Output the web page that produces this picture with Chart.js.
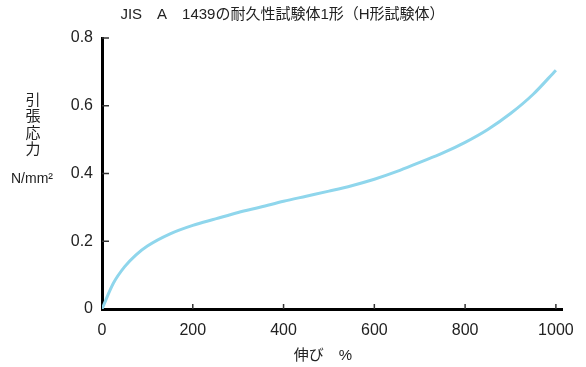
<!DOCTYPE html>
<html>
<head>
<meta charset="utf-8">
<script src="https://cdn.jsdelivr.net/npm/chart.js@4/dist/chart.umd.min.js"></script>
<style>
  html, body { margin: 0; padding: 0; background: #fff; }
  #wrap { width: 586px; height: 367px; position: relative; }
</style>
</head>
<body>
<div id="wrap"><canvas id="c" width="586" height="367"></canvas></div>
<script>
// ---- data ----
const titleText = 'JIS　A　1439の耐久性試験体1形（H形試験体）';
const xAxisTitle = '伸び　%';
const yAxisTitleChars = ['引', '張', '応', '力'];
const yAxisUnit = 'N/mm²';
const elongation = [0, 25, 50, 75, 100, 150, 200, 250, 300, 350, 400, 450, 500, 550, 600, 650, 700, 750, 800, 850, 900, 950, 1000];
const stress = [0, 0.076, 0.125, 0.16, 0.186, 0.222, 0.247, 0.266, 0.285, 0.301, 0.318, 0.333, 0.348, 0.364, 0.383, 0.406, 0.433, 0.46, 0.492, 0.53, 0.577, 0.634, 0.705];
const xTicks = [0, 200, 400, 600, 800, 1000];
const yTicks = [0, 0.2, 0.4, 0.6, 0.8];

const points = elongation.map((x, i) => ({ x: x, y: stress[i] }));
const FONT = '"Liberation Sans", Arial, "Noto Sans CJK JP", sans-serif';
const TEXT = '#222';

const customDraw = {
  id: 'customDraw',
  afterDraw(chart) {
    const ctx = chart.ctx;
    const xs = chart.scales.x, ys = chart.scales.y;
    const area = chart.chartArea;
    ctx.save();
    // inward tick marks
    ctx.strokeStyle = '#333';
    ctx.lineWidth = 1.5;
    yTicks.forEach(v => {
      if (v === 0) return;
      const py = ys.getPixelForValue(v);
      ctx.beginPath();
      ctx.moveTo(area.left, py);
      ctx.lineTo(area.left + 7, py);
      ctx.stroke();
    });
    xTicks.forEach(v => {
      if (v === 0) return;
      const px = xs.getPixelForValue(v);
      ctx.beginPath();
      ctx.moveTo(px, area.bottom);
      ctx.lineTo(px, area.bottom - 5);
      ctx.stroke();
    });
    // y axis title (stacked vertical characters)
    ctx.fillStyle = TEXT;
    ctx.textAlign = 'center';
    ctx.textBaseline = 'middle';
    ctx.font = '15px ' + FONT;
    yAxisTitleChars.forEach((ch, i) => {
      ctx.fillText(ch, 33, 101 + i * 16.3);
    });
    ctx.font = '14px ' + FONT;
    ctx.fillText(yAxisUnit, 32, 179);
    // x axis title
    ctx.font = '15px ' + FONT;
    ctx.fillText(xAxisTitle, 323, 356);
    ctx.restore();
  }
};

new Chart(document.getElementById('c'), {
  type: 'scatter',
  data: {
    datasets: [{
      data: points,
      showLine: true,
      borderColor: '#8fd6ec',
      borderWidth: 3,
      pointRadius: 0,
      cubicInterpolationMode: 'monotone',
      fill: false
    }]
  },
  options: {
    responsive: false,
    animation: false,
    devicePixelRatio: 1,
    layout: { padding: { left: 0, right: 21, top: 0, bottom: 0 } },
    plugins: {
      legend: { display: false },
      tooltip: { enabled: false },
      title: {
        display: true,
        text: titleText,
        color: TEXT,
        font: { family: FONT, size: 15, weight: 'normal', lineHeight: 1.2 },
        padding: { top: 6, bottom: 14 }
      }
    },
    scales: {
      x: {
        type: 'linear',
        min: 0,
        max: 1015,
        afterBuildTicks: s => { s.ticks = xTicks.map(v => ({ value: v })); },
        afterFit: s => { s.height = 58; },
        grid: { display: false, drawTicks: false },
        border: { display: true, color: '#000', width: 3 },
        ticks: {
          color: TEXT,
          padding: 12,
          maxRotation: 0,
          callback: v => String(v),
          font: { family: FONT, size: 16 }
        }
      },
      y: {
        type: 'linear',
        min: 0,
        max: 0.8,
        afterBuildTicks: s => { s.ticks = yTicks.map(v => ({ value: v })); },
        afterFit: s => { s.width = 102; },
        grid: { display: false, drawTicks: false },
        border: { display: true, color: '#000', width: 3 },
        ticks: {
          color: TEXT,
          padding: 9,
          callback: v => String(v),
          font: { family: FONT, size: 16 }
        }
      }
    }
  },
  plugins: [customDraw]
});
</script>
</body>
</html>
